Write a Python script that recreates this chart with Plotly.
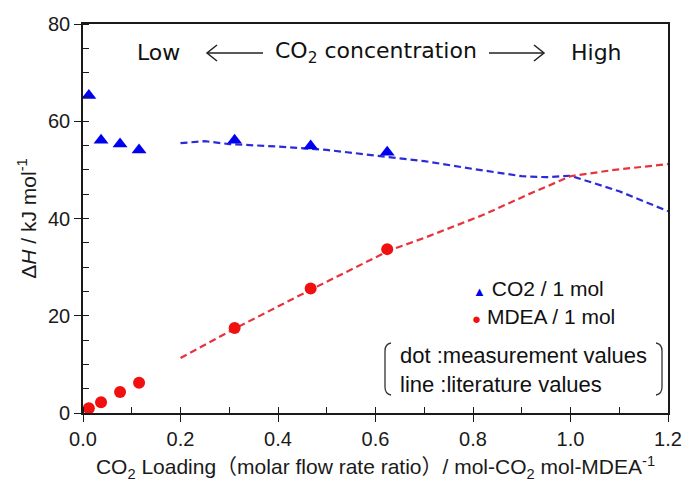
import plotly.graph_objects as go

# ---- data ----
meas_x = [0.012, 0.037, 0.076, 0.115, 0.311, 0.467, 0.624]
co2_meas = [65.3, 56.1, 55.3, 54.1, 56.1, 54.9, 53.6]
mdea_meas = [0.97, 2.2, 4.3, 6.2, 17.5, 25.6, 33.7]

co2_lit_x = [0.2, 0.25, 0.3, 0.4, 0.5, 0.6, 0.7, 0.8, 0.9, 0.95, 1.0, 1.1, 1.2]
co2_lit_y = [55.5, 55.9, 55.3, 54.8, 54.1, 53.0, 51.8, 50.2, 48.7, 48.5, 48.8, 45.6, 41.5]

mdea_lit_x = [0.2, 0.31, 0.47, 0.63, 0.7, 0.75, 0.82, 0.91, 1.0, 1.09, 1.2]
mdea_lit_y = [11.3, 17.3, 25.5, 33.5, 36.0, 38.0, 40.7, 44.8, 48.7, 50.0, 51.2]

x_ticks = [0.0, 0.2, 0.4, 0.6, 0.8, 1.0, 1.2]
x_ticklabels = ["0.0", "0.2", "0.4", "0.6", "0.8", "1.0", "1.2"]
y_ticks = [0, 20, 40, 60, 80]

W, H = 682, 483
ML, MR, MT, MB = 83, 14, 24, 70
PW, PH = W - ML - MR, H - MT - MB


def px(x):
    return (x - ML) / PW


def py(y):
    return (H - MB - y) / PH


fig = go.Figure()

fig.add_trace(go.Scatter(x=co2_lit_x, y=co2_lit_y, mode="lines",
                         line=dict(color="#2B2BD9", width=2.2, dash="7px,4px"),
                         showlegend=False, hoverinfo="skip"))
fig.add_trace(go.Scatter(x=mdea_lit_x, y=mdea_lit_y, mode="lines",
                         line=dict(color="#E8323C", width=2.2, dash="7px,4px"),
                         showlegend=False, hoverinfo="skip"))
fig.add_trace(go.Scatter(x=meas_x, y=co2_meas, mode="markers", name="CO2 / 1 mol",
                         marker=dict(symbol="triangle-up", size=13, color="#0000F0"),
                         showlegend=False))
fig.add_trace(go.Scatter(x=meas_x, y=mdea_meas, mode="markers", name="MDEA / 1 mol",
                         marker=dict(symbol="circle", size=12, color="#F01010"),
                         showlegend=False))
# invisible trace for the overlay axes (inside half of crossing ticks)
fig.add_trace(go.Scatter(x=[0], y=[0], xaxis="x2", yaxis="y2", mode="markers",
                         marker=dict(opacity=0), showlegend=False, hoverinfo="skip"))

axis_col = "#1a1a1a"
tick_font = dict(family="Liberation Sans, Arial, sans-serif", size=20, color="#1a1a1a")

fig.update_layout(
    width=W, height=H,
    margin=dict(l=ML, r=MR, t=MT, b=MB),
    paper_bgcolor="white", plot_bgcolor="white",
    xaxis=dict(range=[0, 1.2], tickvals=x_ticks, ticktext=x_ticklabels, automargin=False,
               ticks="outside", ticklen=7, tickwidth=1.3, tickcolor=axis_col,
               minor=dict(ticks="inside", dtick=0.1, ticklen=6, tickwidth=1.3, tickcolor=axis_col),
               showline=True, linecolor=axis_col, linewidth=1.6, mirror=True,
               showgrid=False, zeroline=False, tickfont=tick_font,
               title=dict(text="CO<sub>2</sub> Loading（molar flow rate ratio）/ mol-CO<sub>2</sub> mol-MDEA<sup>-1</sup>",
                          font=dict(family="Liberation Sans, Noto Sans CJK JP, sans-serif", size=21, color="#1a1a1a"),
                          standoff=11)),
    yaxis=dict(range=[0, 80], tickvals=y_ticks, automargin=False,
               ticks="outside", ticklen=7, tickwidth=1.3, tickcolor=axis_col,
               minor=dict(ticks="inside", dtick=5, ticklen=6, tickwidth=1.3, tickcolor=axis_col),
               showline=True, linecolor=axis_col, linewidth=1.6, mirror=True,
               showgrid=False, zeroline=False, tickfont=tick_font,
               title=dict(text="Δ<i>H</i> / kJ mol<sup>-1</sup>",
                          font=dict(family="Liberation Sans, Arial, sans-serif", size=21, color="#1a1a1a"),
                          standoff=6)),
    xaxis2=dict(overlaying="x", anchor="y", range=[0, 1.2], tickvals=x_ticks, automargin=False,
                ticks="inside", ticklen=6, tickwidth=1.3, tickcolor=axis_col,
                showticklabels=False, showgrid=False, zeroline=False, showline=False),
    yaxis2=dict(overlaying="y", anchor="x", range=[0, 80], tickvals=y_ticks, automargin=False,
                ticks="inside", ticklen=6, tickwidth=1.3, tickcolor=axis_col,
                showticklabels=False, showgrid=False, zeroline=False, showline=False),
    showlegend=False,
)

top_font = dict(family="DejaVu Sans, Verdana, sans-serif", size=22, color="#111")
ann = []
ann.append(dict(x=px(158), y=py(53), xref="paper", yref="paper", text="Low",
                showarrow=False, font=top_font, xanchor="center", yanchor="middle"))
ann.append(dict(x=px(376), y=py(53), xref="paper", yref="paper", text="CO<sub>2</sub> concentration",
                showarrow=False, font=top_font, xanchor="center", yanchor="middle"))
ann.append(dict(x=px(596), y=py(53), xref="paper", yref="paper", text="High",
                showarrow=False, font=top_font, xanchor="center", yanchor="middle"))

leg_font = dict(family="Liberation Sans, Arial, sans-serif", size=21, color="#111")
ann.append(dict(x=px(471), y=py(288), xref="paper", yref="paper",
                text="<span style='color:#0000F0;font-size:13px'>▲</span> CO2 / 1 mol",
                showarrow=False, font=leg_font, xanchor="left", yanchor="middle"))
ann.append(dict(x=px(470), y=py(316), xref="paper", yref="paper",
                text="<span style='color:#F01010;font-size:15px'>●</span> MDEA / 1 mol",
                showarrow=False, font=leg_font, xanchor="left", yanchor="middle"))
ann.append(dict(x=px(398), y=py(355), xref="paper", yref="paper",
                text="dot :measurement values",
                showarrow=False, font=dict(family="Liberation Sans, Arial, sans-serif", size=22, color="#111"),
                xanchor="left", yanchor="middle"))
ann.append(dict(x=px(398), y=py(384), xref="paper", yref="paper",
                text="line :literature values",
                showarrow=False, font=dict(family="Liberation Sans, Arial, sans-serif", size=22, color="#111"),
                xanchor="left", yanchor="middle"))
fig.update_layout(annotations=ann)

shapes = []
line_style = dict(color="#222", width=1.5)
# arrows
shapes.append(dict(type="line", xref="paper", yref="paper", x0=px(207), y0=py(53), x1=px(263), y1=py(53), line=line_style))
shapes.append(dict(type="path", xref="paper", yref="paper",
                   path=f"M {px(217)} {py(45)} L {px(207)} {py(53)} L {px(217)} {py(61)}", line=line_style))
shapes.append(dict(type="line", xref="paper", yref="paper", x0=px(489), y0=py(53), x1=px(544), y1=py(53), line=line_style))
shapes.append(dict(type="path", xref="paper", yref="paper",
                   path=f"M {px(534)} {py(45)} L {px(544)} {py(53)} L {px(534)} {py(61)}", line=line_style))
# brackets
br = dict(color="#333", width=1.3)
shapes.append(dict(type="path", xref="paper", yref="paper",
                   path=f"M {px(391)} {py(343)} Q {px(385)} {py(344)} {px(385)} {py(351)} L {px(385)} {py(387)} Q {px(385)} {py(394)} {px(391)} {py(395)}",
                   line=br))
shapes.append(dict(type="path", xref="paper", yref="paper",
                   path=f"M {px(656)} {py(343)} Q {px(662)} {py(344)} {px(662)} {py(351)} L {px(662)} {py(387)} Q {px(662)} {py(394)} {px(656)} {py(395)}",
                   line=br))
fig.update_layout(shapes=shapes)

fig.write_html("out.html")
